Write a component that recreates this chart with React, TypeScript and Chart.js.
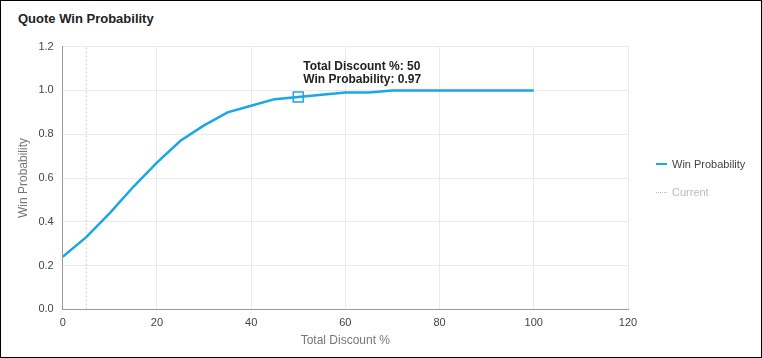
import React, { useEffect, useRef } from "react";
import { Chart, registerables } from "chart.js";

Chart.register(...registerables);

const discounts = [0, 5, 10, 15, 20, 25, 30, 35, 40, 45, 50, 55, 60, 65, 70, 75, 80, 85, 90, 95, 100];
const winProb = [0.24, 0.33, 0.44, 0.56, 0.67, 0.77, 0.84, 0.9, 0.93, 0.96, 0.97, 0.98, 0.99, 0.99, 1, 1, 1, 1, 1, 1, 1];
const currentX = [5, 5];
const currentY = [0, 1.2];
const activeIndex = 10;
const seriesNames = ["Win Probability", "Current"];

const FONT = "Arial, 'Liberation Sans', sans-serif";
const BLUE = "#1ba6e6";

const tooltipPlugin = {
  id: "fixedTip",
  afterDatasetsDraw(chart: any) {
    const meta = chart.getDatasetMeta(0);
    const el = meta.data[activeIndex];
    if (!el) return;
    const ctx = chart.ctx;
    ctx.save();
    ctx.font = "bold 12px Arial, 'Liberation Sans', sans-serif";
    ctx.fillStyle = "#222";
    ctx.textAlign = "left";
    ctx.textBaseline = "alphabetic";
    ctx.fillText(`Total Discount %: ${discounts[activeIndex]}`, el.x + 5, el.y - 27);
    ctx.fillText(`Win Probability: ${winProb[activeIndex]}`, el.x + 5, el.y - 14);
    ctx.restore();
  },
};

export default function App() {
  const ref = useRef<HTMLCanvasElement>(null);
  useEffect(() => {
    document.body.style.margin = "0";
    const radii = discounts.map((_, i) => (i === activeIndex ? 7 : 0));
    const chart = new Chart(ref.current!, {
      type: "line",
      data: {
        datasets: [
          {
            label: seriesNames[0],
            data: discounts.map((x, i) => ({ x, y: winProb[i] })),
            borderColor: BLUE,
            backgroundColor: "rgba(255,255,255,0)",
            borderWidth: 2.5,
            pointRadius: radii,
            pointHoverRadius: radii,
            pointStyle: "rect",
            pointBorderColor: BLUE,
            pointBorderWidth: 1.5,
            pointBackgroundColor: "rgba(255,255,255,0)",
            tension: 0,
          },
          {
            label: seriesNames[1],
            data: currentX.map((x, i) => ({ x, y: currentY[i] })),
            borderColor: "#cfcfcf",
            borderWidth: 1,
            borderDash: [2, 2],
            pointRadius: 0,
          },
        ],
      },
      options: {
        animation: false,
        responsive: false,
        devicePixelRatio: 1,
        events: [],
        layout: { padding: { left: 15, top: 14, right: 133, bottom: 9 } },
        scales: {
          x: {
            type: "linear",
            min: 0,
            max: 120,
            ticks: { stepSize: 20, color: "#444", font: { size: 11, family: FONT }, padding: 7 },
            grid: { color: "#e8eaee", drawTicks: false },
            border: { color: "#999" },
            title: { display: true, text: "Total Discount %", color: "#777", font: { size: 12, family: FONT }, padding: { top: -3, bottom: 0 } },
          },
          y: {
            min: 0,
            max: 1.2,
            ticks: { stepSize: 0.2, color: "#444", font: { size: 11, family: FONT }, padding: 9, callback: (v: any) => Number(v).toFixed(1) },
            grid: { color: "#e8eaee", drawTicks: false },
            border: { color: "#999" },
            title: { display: true, text: "Win Probability", color: "#777", font: { size: 12, family: FONT }, padding: { top: 0, bottom: -1 } },
          },
        },
        plugins: {
          tooltip: { enabled: false },
          legend: { display: false },
        },
      } as any,
      plugins: [tooltipPlugin],
    });
    return () => chart.destroy();
  }, []);
  const legendText = { position: "absolute" as const, left: 671, fontSize: 11, fontFamily: FONT, lineHeight: "14px", whiteSpace: "nowrap" as const };
  return (
    <div style={{ position: "relative", width: 762, height: 358, border: "1px solid #000", boxSizing: "border-box", background: "#fff", fontFamily: FONT }}>
      <div style={{ position: "absolute", left: 17, top: 10, fontWeight: "bold", fontSize: 13, color: "#222" }}>Quote Win Probability</div>
      <canvas ref={ref} width={760} height={326} style={{ position: "absolute", left: 0, top: 30, width: 760, height: 326 }} />
      <div style={{ position: "absolute", left: 655, top: 162, width: 11, height: 0, borderTop: `2.5px solid ${BLUE}` }} />
      <div style={{ ...legendText, top: 156, color: "#444" }}>{seriesNames[0]}</div>
      <div style={{ position: "absolute", left: 655, top: 191, width: 11, height: 0, borderTop: "1.5px dotted #bbb" }} />
      <div style={{ ...legendText, top: 184, color: "#bbb" }}>{seriesNames[1]}</div>
    </div>
  );
}
